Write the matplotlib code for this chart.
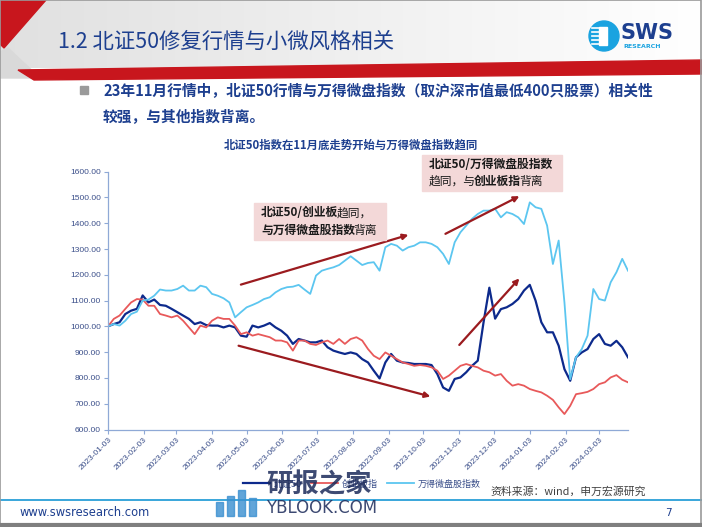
import matplotlib
matplotlib.use("Agg")
import matplotlib.pyplot as plt
import matplotlib.patches as mpatches
import numpy as np
import pandas as pd

plt.rcParams['font.family'] = ['Noto Sans CJK SC', 'DejaVu Sans']

# ---------------- data ----------------
dates = pd.date_range('2023-01-03', periods=91, freq='5D')

bz50 = [1000, 1009, 1016, 1048, 1061, 1068, 1120, 1093, 1104, 1083,
        1080, 1068, 1055, 1042, 1029, 1009, 1016, 1005, 1003, 1003,
        996, 1003, 996, 964, 960, 1003, 996, 1003, 1013, 996,
        983, 964, 932, 951, 945, 938, 938, 945, 919, 906,
        899, 893, 899, 893, 873, 860, 828, 798, 860, 893,
        867, 860, 858, 854, 854, 854, 850, 815, 763, 750,
        796, 802, 822, 847, 867, 1016, 1150, 1030, 1067, 1074,
        1087, 1106, 1139, 1161, 1100, 1016, 977, 977, 925, 834,
        789, 880, 899, 912, 951, 970, 932, 925, 944, 919, 880]

cyb = [1000, 1029, 1042, 1068, 1093, 1106, 1104, 1080, 1080, 1048,
       1042, 1035, 1042, 1022, 996, 970, 1003, 996, 1022, 1035,
       1029, 1029, 1003, 970, 977, 964, 970, 964, 958, 945,
       945, 938, 906, 945, 945, 932, 928, 938, 945, 932,
       951, 932, 951, 958, 945, 912, 886, 873, 899, 886,
       873, 860, 854, 847, 850, 847, 841, 828, 796, 809,
       828, 847, 854, 847, 841, 828, 822, 809, 815, 789,
       770, 776, 770, 757, 750, 744, 731, 715, 686, 660,
       692, 737, 741, 746, 757, 776, 783, 802, 811, 793, 783]

wind_micro = [1000, 1009, 1003, 1022, 1048, 1057, 1100, 1104, 1119, 1143,
              1139, 1139, 1145, 1158, 1139, 1139, 1158, 1152, 1126, 1119,
              1109, 1093, 1035, 1055, 1074, 1083, 1093, 1106, 1113, 1132,
              1145, 1152, 1154, 1161, 1143, 1126, 1197, 1216, 1223, 1229,
              1238, 1255, 1272, 1255, 1238, 1246, 1249, 1216, 1307, 1320,
              1313, 1294, 1307, 1313, 1326, 1326, 1320, 1307, 1281, 1242,
              1326, 1365, 1391, 1417, 1436, 1449, 1449, 1456, 1423, 1443,
              1436, 1423, 1397, 1481, 1462, 1456, 1391, 1242, 1333, 1093,
              795, 880, 912, 964, 1145, 1106, 1100, 1171, 1210, 1262, 1216]

series_names = ['北证50', '创业板指', '万得微盘股指数']
series_colors = ['#0d2a8c', '#e8595a', '#5cc6f0']
series_widths = [1.6, 1.3, 1.3]

yticks = [600, 700, 800, 900, 1000, 1100, 1200, 1300, 1400, 1500, 1600]
xtick_labels = ['2023-01-03', '2023-02-03', '2023-03-03', '2023-04-03', '2023-05-03',
                '2023-06-03', '2023-07-03', '2023-08-03', '2023-09-03', '2023-10-03',
                '2023-11-03', '2023-12-03', '2024-01-03', '2024-02-03', '2024-03-03']

# trend arrows (start date, start value, end date, end value)
arrows = [('2023-04-28', 1162, '2023-09-20', 1355),
          ('2023-04-26', 925, '2023-10-09', 728),
          ('2023-10-22', 1359, '2023-12-25', 1505),
          ('2023-11-03', 928, '2023-12-25', 1186)]

W, H = 702, 527
fig = plt.figure(figsize=(W / 100, H / 100), dpi=100)
fig.patch.set_facecolor('white')

# ---------------- background slide ----------------
bg = fig.add_axes([0, 0, 1, 1], zorder=0)
bg.set_xlim(0, W)
bg.set_ylim(H, 0)
bg.axis('off')

grad = np.linspace(0.88, 1.0, 256).reshape(1, -1)
bg.imshow(np.dstack([grad, grad, grad]), extent=[0, W, 68, 0], aspect='auto', zorder=0)
bg.add_patch(mpatches.Polygon([[0, 0], [46, 0], [4, 48], [0, 44]], closed=True,
                              color='#c8161d', zorder=1))
bg.add_patch(mpatches.Polygon([[0, 52], [8, 48], [40, 78], [0, 78]], closed=True,
                              color='#d9d9d9', zorder=1))
bg.add_patch(mpatches.Polygon([[18, 70], [W, 60], [W, 74], [34, 80]], closed=True,
                              color='#c8161d', zorder=1))
bg.add_patch(mpatches.Rectangle((0, 0), W - 1, H - 1, fill=False, ec='#9a9a9a', lw=1.2, zorder=5))
bg.plot([0, W], [525, 525], color='#7f7f7f', lw=3, zorder=5)

bg.text(58, 42, '1.2 北证50修复行情与小微风格相关', fontsize=15.4, color='#1d3f8f',
        ha='left', va='center', zorder=3)

# SWS logo
bg.add_patch(mpatches.Circle((604, 36), 15, color='#1aa3e0', zorder=3))
for yy in [28, 32, 36, 40, 44]:
    bg.plot([592, 604], [yy, yy], color='white', lw=1.2, zorder=4)
bg.add_patch(mpatches.Rectangle((599, 27), 8, 18, color='white', zorder=4))
bg.text(621, 33, 'SWS', fontsize=15, fontweight='bold', color='#1d3f8f',
        family='DejaVu Sans', ha='left', va='center', zorder=3)
bg.text(623, 47, 'RESEARCH', fontsize=4.5, fontweight='bold', color='#1aa3e0',
        family='DejaVu Sans', ha='left', va='center', zorder=3)

bg.add_patch(mpatches.Rectangle((80, 86), 8, 8, color='#9a9a9a', zorder=3))
bg.text(103, 91, '23年11月行情中，北证50行情与万得微盘指数（取沪深市值最低400只股票）相关性',
        fontsize=10.6, fontweight='bold', color='#1d3f8f', ha='left', va='center')
bg.text(103, 116, '较强，与其他指数背离。', fontsize=10.6, fontweight='bold',
        color='#1d3f8f', ha='left', va='center')

bg.text(351, 145, '北证50指数在11月底走势开始与万得微盘指数趋同', fontsize=8.2,
        fontweight='bold', color='#1d3f8f', ha='center', va='center')

bg.text(490, 492, '资料来源：wind，申万宏源研究', fontsize=7.8, color='#404040',
        ha='left', va='center')
bg.plot([0, W], [500, 500], color='#2a9fd8', lw=1.3)
bg.text(20, 513, 'www.swsresearch.com', fontsize=8.3, color='#1d3f8f',
        family='DejaVu Sans', ha='left', va='center')
bg.text(668, 513, '7', fontsize=7.5, color='#1d3f8f', family='DejaVu Sans',
        ha='center', va='center')

# ---------------- chart ----------------
left, right = 108 / W, 628 / W
bottom, top = 1 - 429.5 / H, 1 - 171.7 / H
ax = fig.add_axes([left, bottom, right - left, top - bottom], zorder=2)
ax.patch.set_alpha(0)

for name, vals, c, lw in zip(series_names, [bz50, cyb, wind_micro], series_colors, series_widths):
    ax.plot(dates, vals, color=c, lw=lw, label=name, solid_joinstyle='round')

ax.set_ylim(600, 1600)
ax.set_yticks(yticks)
ax.set_yticklabels([f'{v:.2f}' for v in yticks])
ax.set_xlim(pd.Timestamp('2023-01-03'), pd.Timestamp('2024-03-28'))
xt = pd.to_datetime(xtick_labels)
ax.set_xticks(xt)
ax.set_xticklabels(xtick_labels, rotation=45, ha='right', va='top', rotation_mode='anchor')

for s in ['top', 'right']:
    ax.spines[s].set_visible(False)
for s in ['left', 'bottom']:
    ax.spines[s].set_color('#8fa9d6')
    ax.spines[s].set_linewidth(0.9)
ax.tick_params(axis='both', colors='#8fa9d6', length=3, width=0.8)
ax.tick_params(axis='y', labelsize=6, labelcolor='#3b4f8a', pad=2)
ax.tick_params(axis='x', labelsize=6, labelcolor='#3b4f8a', pad=2)
for lab in ax.get_xticklabels() + ax.get_yticklabels():
    lab.set_family('Liberation Sans')

for d0, v0, d1, v1 in arrows:
    ax.annotate('', xy=(pd.Timestamp(d1), v1), xytext=(pd.Timestamp(d0), v0),
                arrowprops=dict(arrowstyle='-|>', color='#9b1b1f', lw=1.6,
                                mutation_scale=8, shrinkA=0, shrinkB=0))

leg = ax.legend(loc='center', bbox_to_anchor=(362 / W, 1 - 484 / H),
                bbox_transform=fig.transFigure, ncol=3, frameon=False,
                fontsize=6.5, handlelength=3.0, columnspacing=1.0, handletextpad=0.4)
for t in leg.get_texts():
    t.set_color('#3b4f8a')

# ---------------- overlay (annotation boxes, watermark) ----------------
fg = fig.add_axes([0, 0, 1, 1], zorder=4)
fg.set_xlim(0, W)
fg.set_ylim(H, 0)
fg.axis('off')
fg.patch.set_alpha(0)

renderer = fig.canvas.get_renderer()


def rich(x, y, segs, size=8.5):
    for txt, wt in segs:
        t = fg.text(x, y, txt, fontsize=size, fontweight=wt, color='#1a1a1a',
                    ha='left', va='center', zorder=6)
        bb = t.get_window_extent(renderer)
        x += bb.width - 2


fg.add_patch(mpatches.Rectangle((254, 203), 132, 37, color='#f3d8d8', zorder=5))
rich(261, 213, [('北证50/创业板', 'bold'), ('趋同，', 'normal')])
rich(261, 230, [('与万得微盘股指数', 'bold'), ('背离', 'normal')])

fg.add_patch(mpatches.Rectangle((422, 155), 140, 36, color='#f3d8d8', zorder=5))
rich(429, 165, [('北证50/万得微盘股指数', 'bold')])
rich(429, 181, [('趋同，与', 'normal'), ('创业板指', 'bold'), ('背离', 'normal')])

# watermark
fg.text(266, 485, '研报之家', fontsize=19, fontweight='bold', color='#1b2a5a',
        alpha=0.85, ha='left', va='center', zorder=7)
fg.text(266, 508, 'YBLOOK.COM', fontsize=12, color='#1b2a5a', alpha=0.85,
        family='DejaVu Sans', ha='left', va='center', zorder=7)
for i, hgt in enumerate([14, 20, 26, 18]):
    fg.add_patch(mpatches.Rectangle((216 + i * 11, 516 - hgt), 7, hgt,
                                    color='#3a8fd0', alpha=0.8, zorder=7))

fig.savefig('out.png', dpi=100, facecolor='white')
